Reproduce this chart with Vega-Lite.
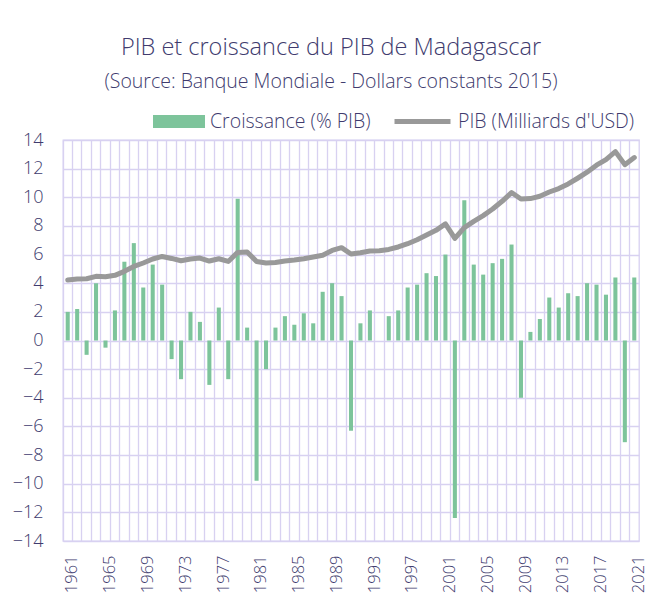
{
  "$schema": "https://vega.github.io/schema/vega-lite/v6.json",
  "autosize": {"type": "none"},
  "width": 576,
  "height": 401,
  "padding": {"left": 63, "top": 140, "right": 15, "bottom": 68},
  "background": "white",
  "title": {
    "text": "PIB et croissance du PIB de Madagascar",
    "subtitle": "(Source: Banque Mondiale - Dollars constants 2015)",
    "anchor": "middle",
    "dx": -20,
    "fontSize": 23.5,
    "subtitleFontSize": 19.5,
    "font": "Open Sans",
    "subtitleFont": "Open Sans",
    "fontWeight": 300,
    "subtitleFontWeight": 300,
    "color": "#403B6E",
    "subtitleColor": "#403B6E",
    "subtitlePadding": 13,
    "offset": 0
  },
  "config": {
    "font": "Open Sans",
    "view": {"stroke": "#D8D1F1", "strokeWidth": 1.3},
    "axis": {"labelFont": "Open Sans", "labelColor": "#403B6E", "labelFontWeight": 300, "labelOverlap": false}
  },
  "data": {
    "values": [
      {"year": 1961, "growth": 2.0, "gdp": 4.22},
      {"year": 1962, "growth": 2.2, "gdp": 4.29},
      {"year": 1963, "growth": -1.0, "gdp": 4.31},
      {"year": 1964, "growth": 4.0, "gdp": 4.48},
      {"year": 1965, "growth": -0.5, "gdp": 4.45},
      {"year": 1966, "growth": 2.1, "gdp": 4.55},
      {"year": 1967, "growth": 5.5, "gdp": 4.83},
      {"year": 1968, "growth": 6.8, "gdp": 5.17},
      {"year": 1969, "growth": 3.7, "gdp": 5.41},
      {"year": 1970, "growth": 5.3, "gdp": 5.69},
      {"year": 1971, "growth": 3.9, "gdp": 5.87},
      {"year": 1972, "growth": -1.3, "gdp": 5.73},
      {"year": 1973, "growth": -2.7, "gdp": 5.57},
      {"year": 1974, "growth": 2.0, "gdp": 5.69},
      {"year": 1975, "growth": 1.3, "gdp": 5.76},
      {"year": 1976, "growth": -3.1, "gdp": 5.55},
      {"year": 1977, "growth": 2.3, "gdp": 5.71},
      {"year": 1978, "growth": -2.7, "gdp": 5.52},
      {"year": 1979, "growth": 9.9, "gdp": 6.15},
      {"year": 1980, "growth": 0.9, "gdp": 6.18},
      {"year": 1981, "growth": -9.8, "gdp": 5.52},
      {"year": 1982, "growth": -2.0, "gdp": 5.41},
      {"year": 1983, "growth": 0.9, "gdp": 5.45},
      {"year": 1984, "growth": 1.7, "gdp": 5.55},
      {"year": 1985, "growth": 1.1, "gdp": 5.62},
      {"year": 1986, "growth": 1.9, "gdp": 5.71},
      {"year": 1987, "growth": 1.2, "gdp": 5.83},
      {"year": 1988, "growth": 3.4, "gdp": 5.95},
      {"year": 1989, "growth": 4.0, "gdp": 6.29},
      {"year": 1990, "growth": 3.1, "gdp": 6.48},
      {"year": 1991, "growth": -6.3, "gdp": 6.04},
      {"year": 1992, "growth": 1.2, "gdp": 6.13},
      {"year": 1993, "growth": 2.1, "gdp": 6.25},
      {"year": 1994, "growth": 0.0, "gdp": 6.27},
      {"year": 1995, "growth": 1.7, "gdp": 6.36},
      {"year": 1996, "growth": 2.1, "gdp": 6.53},
      {"year": 1997, "growth": 3.7, "gdp": 6.76},
      {"year": 1998, "growth": 3.9, "gdp": 7.04},
      {"year": 1999, "growth": 4.7, "gdp": 7.37},
      {"year": 2000, "growth": 4.5, "gdp": 7.69},
      {"year": 2001, "growth": 6.0, "gdp": 8.14},
      {"year": 2002, "growth": -12.4, "gdp": 7.13},
      {"year": 2003, "growth": 9.8, "gdp": 7.88},
      {"year": 2004, "growth": 5.3, "gdp": 8.32},
      {"year": 2005, "growth": 4.6, "gdp": 8.72},
      {"year": 2006, "growth": 5.4, "gdp": 9.18},
      {"year": 2007, "growth": 5.7, "gdp": 9.72},
      {"year": 2008, "growth": 6.7, "gdp": 10.33},
      {"year": 2009, "growth": -4.0, "gdp": 9.88},
      {"year": 2010, "growth": 0.6, "gdp": 9.91},
      {"year": 2011, "growth": 1.5, "gdp": 10.07},
      {"year": 2012, "growth": 3.0, "gdp": 10.37},
      {"year": 2013, "growth": 2.3, "gdp": 10.61},
      {"year": 2014, "growth": 3.3, "gdp": 10.93},
      {"year": 2015, "growth": 3.1, "gdp": 11.33},
      {"year": 2016, "growth": 4.0, "gdp": 11.75},
      {"year": 2017, "growth": 3.9, "gdp": 12.24},
      {"year": 2018, "growth": 3.2, "gdp": 12.63},
      {"year": 2019, "growth": 4.4, "gdp": 13.19},
      {"year": 2020, "growth": -7.1, "gdp": 12.28},
      {"year": 2021, "growth": 4.4, "gdp": 12.77}
    ]
  },
  "encoding": {
    "x": {
      "field": "year",
      "type": "ordinal",
      "scale": {"paddingInner": 0, "paddingOuter": 0},
      "axis": {
        "title": null,
        "bandPosition": 0,
        "labelOffset": 4.72,
        "labelAngle": -90,
        "labelAlign": "right",
        "labelBaseline": "middle",
        "labelFontSize": 16.5,
        "labelPadding": 14,
        "labelOverlap": false,
        "labelExpr": "(datum.value - 1961) % 4 == 0 ? datum.label : ''",
        "ticks": false,
        "domain": false,
        "grid": true,
        "gridColor": "#D8D1F1",
        "gridWidth": 1.3,
        "gridOpacity": 1
      }
    }
  },
  "layer": [
    {
      "mark": {"type": "bar", "width": {"band": 0.43}},
      "encoding": {
        "y": {
          "field": "growth",
          "type": "quantitative",
          "scale": {"domain": [-14, 14], "nice": false},
          "axis": {
            "title": null,
            "values": [-14, -12, -10, -8, -6, -4, -2, 0, 2, 4, 6, 8, 10, 12, 14],
            "tickCount": 15,
            "labelOverlap": false,
            "labelBound": false,
            "ticks": false,
            "domain": false,
            "labelFontSize": 18,
            "labelPadding": 20,
            "grid": true,
            "gridColor": "#D8D1F1",
            "gridWidth": 1.3,
            "gridOpacity": 1
          }
        },
        "fill": {
          "datum": "Croissance (% PIB)",
          "type": "nominal",
          "scale": {"range": ["#7DC49B"]},
          "legend": {
            "title": null,
            "orient": "none",
            "legendX": 90,
            "legendY": -44.5,
            "padding": 0,
            "symbolType": "M-1,-0.25H1V0.25H-1Z",
            "symbolSize": 2704,
            "symbolStrokeWidth": 0,
            "labelFontSize": 19.5,
            "labelFont": "Open Sans",
            "labelFontWeight": 300,
            "labelColor": "#403B6E",
            "labelOffset": 5,
            "labelLimit": 400
          }
        }
      }
    },
    {
      "mark": {"type": "line", "strokeWidth": 5, "strokeCap": "round", "strokeJoin": "round"},
      "encoding": {
        "y": {
          "field": "gdp",
          "type": "quantitative",
          "axis": {
            "title": null,
            "values": [-14, -12, -10, -8, -6, -4, -2, 0, 2, 4, 6, 8, 10, 12, 14],
            "tickCount": 15,
            "labelOverlap": false,
            "labelBound": false,
            "ticks": false,
            "domain": false,
            "labelFontSize": 18,
            "labelPadding": 20,
            "grid": true,
            "gridColor": "#D8D1F1",
            "gridWidth": 1.3,
            "gridOpacity": 1
          }
        },
        "stroke": {
          "datum": "PIB (Milliards d'USD)",
          "type": "nominal",
          "scale": {"range": ["#999999"]},
          "legend": {
            "title": null,
            "orient": "none",
            "legendX": 329,
            "legendY": -49,
            "padding": 0,
            "symbolType": "M-1,0H1",
            "symbolSize": 3136,
            "symbolStrokeWidth": 5,
            "labelFontSize": 19.5,
            "labelFont": "Open Sans",
            "labelFontWeight": 300,
            "labelColor": "#403B6E",
            "labelOffset": 5,
            "labelLimit": 400
          }
        }
      }
    }
  ]
}
